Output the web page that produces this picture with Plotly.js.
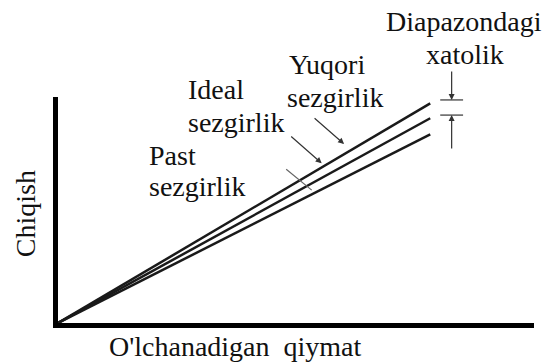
<!DOCTYPE html>
<html>
<head>
<meta charset="utf-8">
<script src="https://cdn.plot.ly/plotly-3.0.1.min.js"></script>
<style>
html,body{margin:0;padding:0;background:#fff;}
#chart{width:549px;height:362px;}
#chart text{font-family:'Liberation Serif','DejaVu Serif',serif !important;}
</style>
</head>
<body>
<div id="chart"></div>
<script>
// Data
const seriesNames = ["Yuqori sezgirlik", "Ideal sezgirlik", "Past sezgirlik"];
const inputX = [0, 7.82];
const outputHigh = [0, 9.72];
const outputIdeal = [0, 9.06];
const outputLow = [0, 8.35];
const xTitle = "O'lchanadigan  qiymat";
const yTitle = "Chiqish";
const errLabel = ["Diapazondagi", "xatolik"];

const lineStyle = {color: '#1a1a1a', width: 2.5};
const traces = [outputHigh, outputIdeal, outputLow].map((ys, i) => ({
  type: 'scatter', mode: 'lines', x: inputX, y: ys, name: seriesNames[i],
  line: lineStyle, hoverinfo: 'skip', showlegend: false, cliponaxis: false
}));

const F = {family: 'Liberation Serif, DejaVu Serif, serif', size: 28, color: '#111'};
function label(text, x, y, xanchor) {
  return {text: text, x: x, y: y, xref: 'paper', yref: 'paper', showarrow: false,
          xanchor: xanchor || 'left', yanchor: 'middle', font: F, borderpad: 0};
}
function arrow(x, y, ax, ay, head, color) {
  return {text: '', x: x, y: y, xref: 'x', yref: 'y', ax: ax, ay: ay,
          showarrow: true, arrowhead: head, arrowsize: 1, arrowwidth: 1.2,
          arrowcolor: color || '#333', standoff: 0, startstandoff: 0};
}

const annotations = [
  label(errLabel[0], 0.852, 1.333, 'center'),
  label(errLabel[1], 0.856, 1.186, 'center'),
  label('Yuqori', 0.483, 1.142),
  label('sezgirlik', 0.479, 1.0),
  label('Ideal', 0.271, 1.031),
  label('sezgirlik', 0.271, 0.885),
  label('Past', 0.190, 0.739),
  label('sezgirlik', 0.190, 0.602),
  label(xTitle, 0.373, -0.102, 'center'),
  Object.assign(label(yTitle, -0.069, 0.482, 'center'), {textangle: -90}),
  arrow(6.01, 7.92, -31, -27, 2),
  arrow(5.54, 7.07, -32, -28, 2),
  arrow(5.33, 5.88, -27, -22, 0, '#666'),
  arrow(8.27, 9.87, 0, -30, 2),
  arrow(8.27, 9.20, 0, 35, 2)
];

const shapes = [
  {type: 'line', xref: 'x', yref: 'y', x0: 8.03, x1: 8.51, y0: 9.87, y1: 9.87, line: {color: '#333', width: 1.2}},
  {type: 'line', xref: 'x', yref: 'y', x0: 8.03, x1: 8.51, y0: 9.20, y1: 9.20, line: {color: '#333', width: 1.2}}
];

const axisCommon = {range: [0, 10], showgrid: false, zeroline: false, showticklabels: false,
  ticks: '', showline: true, linecolor: '#000', linewidth: 5, fixedrange: true};

const layout = {
  width: 549, height: 362,
  margin: {l: 58, r: 15, t: 97, b: 39, pad: 0},
  paper_bgcolor: '#fff', plot_bgcolor: '#fff',
  font: F,
  xaxis: Object.assign({}, axisCommon),
  yaxis: Object.assign({}, axisCommon),
  annotations: annotations,
  shapes: shapes,
  showlegend: false
};

Plotly.newPlot('chart', traces, layout, {displayModeBar: false, staticPlot: true});
</script>
</body>
</html>
